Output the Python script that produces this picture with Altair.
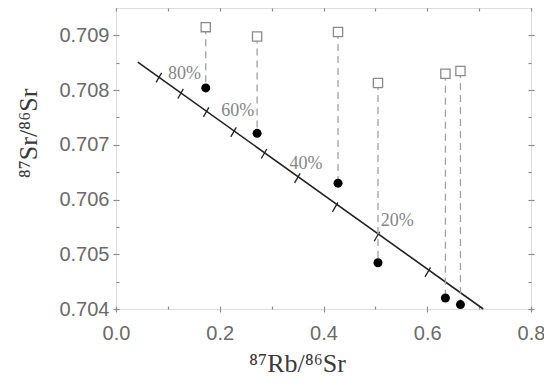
import altair as alt
import pandas as pd

# Mixing line
line_x = [0.042, 0.708]
line_y = [0.70851, 0.70400]

# Tick marks on mixing line
cross_x = [0.0826, 0.1245, 0.1738, 0.2265, 0.2854, 0.3496, 0.4225, 0.503, 0.601]
cross_y = [0.708227, 0.707934, 0.707598, 0.707232, 0.706837, 0.706391, 0.705861, 0.705325, 0.704673]

# Samples
sample_x = [0.173, 0.272, 0.428, 0.505, 0.635, 0.664]
measured_y = [0.70804, 0.70721, 0.70630, 0.704845, 0.70420, 0.70408]
initial_y = [0.70915, 0.70898, 0.70906, 0.70813, 0.70830, 0.70835]

# Percent labels
pct_labels = ["80%", "60%", "40%", "20%"]
pct_x = [0.132, 0.2346, 0.3665, 0.5423]
pct_y = [0.708287, 0.70761, 0.706654, 0.7056]

x_major = [0.0, 0.2, 0.4, 0.6, 0.8]
x_all = [0.0, 0.1, 0.2, 0.3, 0.4, 0.5, 0.6, 0.7, 0.8]
y_major = [0.704, 0.705, 0.706, 0.707, 0.708, 0.709]
y_all = [0.704, 0.7045, 0.705, 0.7055, 0.706, 0.7065, 0.707, 0.7075, 0.708, 0.7085, 0.709]

line_df = pd.DataFrame({"x": line_x, "y": line_y})
cross_df = pd.DataFrame({"x": cross_x, "y": cross_y})
samp_df = pd.DataFrame({"x": sample_x, "m": measured_y, "i": initial_y})
pct_df = pd.DataFrame({"x": pct_x, "y": pct_y, "t": pct_labels})

xs = alt.Scale(domain=[0, 0.8], nice=False, zero=False)
ys = alt.Scale(domain=[0.704, 0.7095], nice=False, zero=False)

AX = "#8a8a8a"
LAB = "#6a6a6a"

x_main = alt.Axis(orient="bottom", values=x_major, format=".1f", tickSize=3, tickColor=AX,
                  tickWidth=1.2, domain=False, grid=False, labelFont="Liberation Sans",
                  labelFontSize=20, labelColor=LAB, labelPadding=11, labelFlush=False,
                  title="⁸⁷Rb/⁸⁶Sr", titleFont="Liberation Serif", titleFontSize=26,
                  titleFontWeight="normal", titleColor="#3a3a3a", titleX=181, titleY=62,
                  titleAlign="center", titleBaseline="alphabetic")
y_main = alt.Axis(orient="left", values=y_major, format=".3f", tickSize=3, tickColor=AX,
                  tickWidth=1.2, domain=False, grid=False, labelFont="Liberation Sans",
                  labelFontSize=20, labelColor=LAB, labelPadding=4, labelFlush=False,
                  title="⁸⁷Sr/⁸⁶Sr", titleFont="Liberation Serif", titleFontSize=26,
                  titleFontWeight="normal", titleColor="#3a3a3a", titleX=-88, titleY=125,
                  titleAngle=270, titleAlign="center", titleBaseline="middle")

def inner(orient, vals):
    return alt.Axis(orient=orient, values=vals, offset=-3, tickSize=3, tickColor=AX,
                    tickWidth=1.2, domain=False, labels=False, grid=False, title=None)

def outer(orient, vals):
    return alt.Axis(orient=orient, values=vals, tickSize=3, tickColor=AX,
                    tickWidth=1.2, domain=False, labels=False, grid=False, title=None)

line = alt.Chart(line_df).mark_line(color="#222222", strokeWidth=1.6).encode(
    x=alt.X("x:Q", scale=xs, axis=x_main),
    y=alt.Y("y:Q", scale=ys, axis=y_main),
)

crosses = alt.Chart(cross_df).mark_point(shape="M0,-1L0,1", angle=30, filled=False,
                                         color="#222222", strokeWidth=1.3, size=121, opacity=1).encode(
    x=alt.X("x:Q", scale=xs, axis=inner("bottom", x_all)),
    y=alt.Y("y:Q", scale=ys, axis=inner("left", y_all)),
)

rules = alt.Chart(samp_df).mark_rule(color="#a0a0a0", strokeWidth=1.3, strokeDash=[7, 5]).encode(
    x=alt.X("x:Q", scale=xs, axis=outer("top", x_major)),
    y=alt.Y("i:Q", scale=ys, axis=outer("right", y_major)),
    y2="m:Q",
)

squares = alt.Chart(samp_df).mark_point(shape="square", filled=True, fill="white",
                                        stroke="#8a8a8a", strokeWidth=1.3, size=85, opacity=1).encode(
    x=alt.X("x:Q", scale=xs, axis=inner("top", x_all)),
    y=alt.Y("i:Q", scale=ys, axis=inner("right", y_all)),
)

circles = alt.Chart(samp_df).mark_circle(color="black", size=81, opacity=1).encode(
    x=alt.X("x:Q", scale=xs, axis=None),
    y=alt.Y("m:Q", scale=ys, axis=None),
)

texts = alt.Chart(pct_df).mark_text(font="Liberation Serif", fontSize=18, color="#858585",
                                    align="center", baseline="middle").encode(
    x=alt.X("x:Q", scale=xs, axis=None),
    y=alt.Y("y:Q", scale=ys, axis=None),
    text="t:N",
)

chart = alt.layer(line, crosses, rules, squares, circles, texts).resolve_axis(
    x="independent", y="independent"
).properties(
    width=415, height=301,
    autosize=alt.AutoSizeParams(type="none"),
    padding={"left": 108, "top": 0, "right": 13, "bottom": 70},
).configure_view(stroke=AX, strokeWidth=1.6).configure(background="white")

chart.save("out.html", embed_options={"renderer": "svg", "actions": False})
